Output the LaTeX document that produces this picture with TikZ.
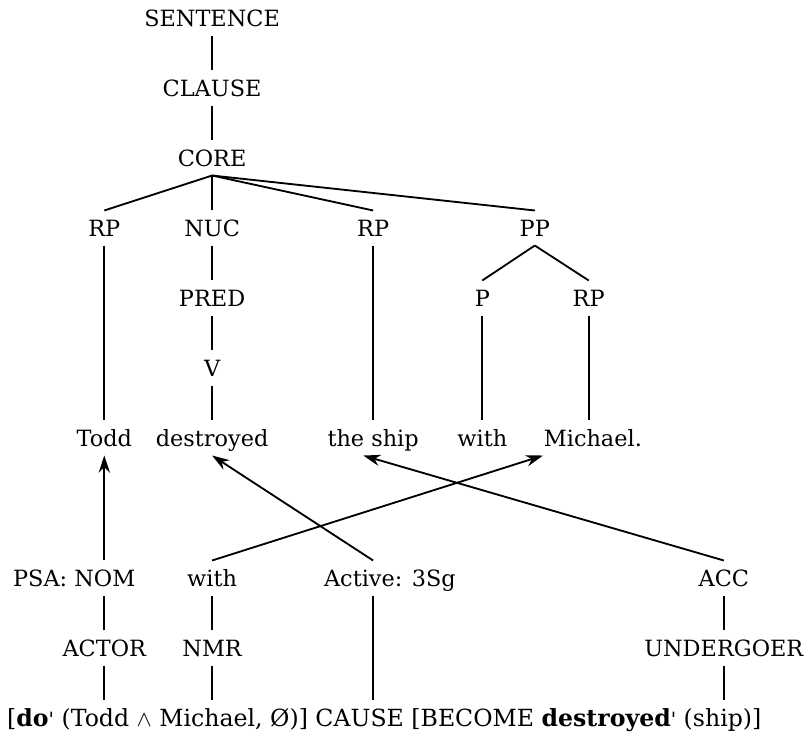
\documentclass[tikz,border=0pt]{standalone}
\usepackage{fontspec}
\setmainfont{DejaVu Serif}
\usetikzlibrary{arrows.meta,calc}

\begin{document}
\begin{tikzpicture}[font=\fontsize{9.1}{11}\selectfont,line width=.75pt,
      cat/.style={inner sep=0pt,text height=2ex,text depth=.6ex},
      a/.style={-{Stealth[length=7pt,width=4.6pt]}}]
      \useasboundingbox (0,.257) rectangle (11.543,-10.214);
      % layered structure of the clause
      \node[cat] (sent) at (3.03,0) {SENTENCE};
      \node[cat] (clause) at (3.03,-1) {CLAUSE};
      \node[cat] (core) at (3.03,-2) {CORE};
      \node[cat] (rpa) at (1.49,-3) {RP};
      \node[cat] (nuc) at (3.03,-3) {NUC};
      \node[cat] (rpb) at (5.33,-3) {RP};
      \node[cat] (pp) at (7.64,-3) {PP};
      \node[cat] (pred) at (3.03,-4) {PRED};
      \node[cat] (p) at (6.89,-4) {P};
      \node[cat] (rpc) at (8.41,-4) {RP};
      \node[cat] (v) at (3.03,-5) {V};
      \node[cat] (todd) at (1.49,-6) {Todd};
      \node[cat] (destr) at (3.03,-6) {destroyed};
      \node[cat] (ship) at (5.33,-6) {the ship};
      \node[cat] (with) at (6.89,-6) {with};
      \node[cat] (mich) at (8.47,-6) {Michael.};
      \draw (sent.south)--(clause.north);
      \draw (clause.south)--(core.north);
      \draw (core.south)--(rpa.north);
      \draw (core.south)--(nuc.north);
      \draw (core.south)--(rpb.north);
      \draw (core.south)--(pp.north);
      \draw (nuc.south)--(pred.north);
      \draw (pred.south)--(v.north);
      \draw (v.south)--(destr.north);
      \draw (rpa.south)--(todd.north);
      \draw (rpb.south)--(ship.north);
      \draw (pp.south)--(p.north);
      \draw (pp.south)--(rpc.north);
      \draw (p.south)--(with.north);
      \draw (rpc.south)--(rpc |- mich.north);
      % linking to the logical structure
      \node[cat] (psa) at (1.06,-8) {PSA: NOM};
      \node[cat] (withb) at (3.03,-8) {with};
      \node[cat] (act) at (5.57,-8) {Active: 3Sg};
      \node[cat] (acc) at (10.34,-8) {ACC};
      \node[cat] (actor) at (1.49,-9) {ACTOR};
      \node[cat] (nmr) at (3.03,-9) {NMR};
      \node[cat] (und) at (10.34,-9) {UNDERGOER};
      \node[cat,font=\fontsize{9.6}{11}\selectfont] (ls) at (5.49,-10) {[\textbf{do}{\footnotesize\textquotesingle} (Todd {\small$\wedge$} Michael, Ø)] CAUSE [BECOME \textbf{destroyed}{\footnotesize\textquotesingle} (ship)]};
      \coordinate (act-x) at ($(act.north)+(-.24,0)$);
      \draw (actor.north)--(actor |- psa.south);
      \draw (actor.south)--(actor |- ls.north);
      \draw (nmr.north)--(withb.south);
      \draw (nmr.south)--(nmr |- ls.north);
      \draw (act-x |- act.south)--(act-x |- ls.north);
      \draw (acc.south)--(und.north);
      \draw (und.south)--(und |- ls.north);
      \draw[a] (todd |- psa.north)--(todd.south);
      \draw[a] (act-x)--(destr.south);
      \draw[a] (withb.north)--(mich.south west);
      \draw[a] (acc.north)--([xshift=-4pt]ship.south);
    \end{tikzpicture}
\end{document}
